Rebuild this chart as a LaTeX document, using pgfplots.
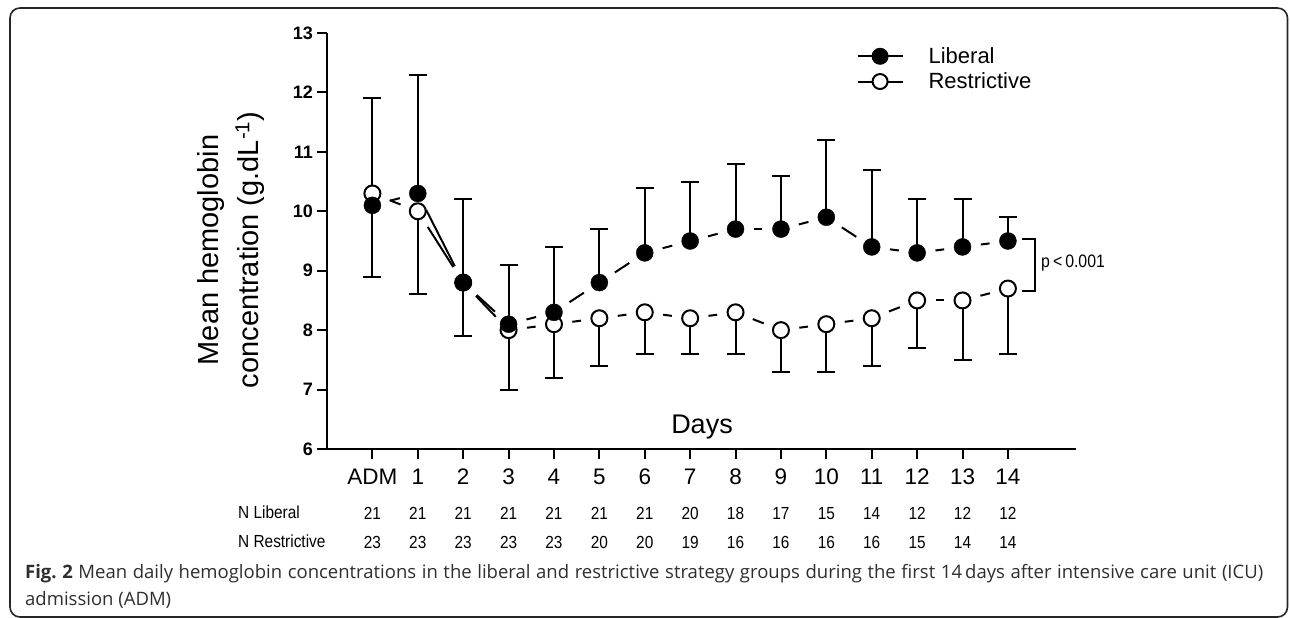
\documentclass[border=0pt]{standalone}
\usepackage{fontspec}
\setmainfont{Liberation Sans}
\newfontfamily\narrowfont{Liberation Sans}[FakeStretch=0.88]
\newfontfamily\capfont{Open Sans}
\usepackage{pgfplots}
\usepackage{pgfplotstable}
\pgfplotsset{compat=1.18}

\pgfplotstableread{
x  lib  libhi res  reslo nl nr
0  10.1 1.8   10.3 1.4   21 23
1  10.3 2.0   10.0 1.4   21 23
2  8.8  1.4   8.8  0.9   21 23
3  8.1  1.0   8.0  1.0   21 23
4  8.3  1.1   8.1  0.9   21 23
5  8.8  0.9   8.2  0.8   21 20
6  9.3  1.1   8.3  0.7   21 20
7  9.5  1.0   8.2  0.6   20 19
8  9.7  1.1   8.3  0.7   18 16
9  9.7  0.9   8.0  0.7   17 16
10 9.9  1.3   8.1  0.8   15 16
11 9.4  1.3   8.2  0.8   14 16
12 9.3  0.9   8.5  0.8   12 15
13 9.4  0.8   8.5  1.0   12 14
14 9.5  0.4   8.7  1.1   12 14
}\datatable

\begin{document}
\begin{tikzpicture}[x=1pt,y=1pt]
\path[use as bounding box] (0,0) rectangle (1290,618);
\draw[line width=1.6pt, rounded corners=10pt, black!85] (10,1) rectangle (1287.5,610);

\begin{axis}[
  at={(327pt,169pt)}, anchor=south west,
  scale only axis, width=749pt, height=416pt,
  xmin=-1, xmax=15.5, ymin=6, ymax=13,
  axis lines*=left, clip=false,
  axis line style={line width=2pt, black},
  tick style={line width=2pt, black},
  tick align=outside, major tick length=10pt,
  xtick={0,1,2,3,4,5,6,7,8,9,10,11,12,13,14},
  xticklabels={ADM,1,2,3,4,5,6,7,8,9,10,11,12,13,14},
  ytick={6,7,8,9,10,11,12,13},
  /pgf/number format/assume math mode=true,
  yticklabel style={font=\fontsize{18}{18}\selectfont\bfseries, inner sep=0pt, xshift=-4pt},
  xticklabel style={font=\fontsize{22.5}{22.5}\selectfont, inner sep=0pt, yshift=-10pt},
  legend style={draw=none, fill=none, at={(axis cs:10.662,12.758)}, anchor=north west,
    inner sep=0pt, row sep=7.8pt, nodes={inner sep=0pt},
    font=\fontsize{22}{22}\selectfont,
    /tikz/every odd column/.append style={column sep=25pt}},
  legend cell align=left,
  legend image code/.code={\draw[#1, mark repeat=2, mark phase=2] plot coordinates {(0pt,0pt) (22.5pt,0pt) (45pt,0pt)};},
]
\addlegendimage{solid, line width=2pt, black, mark=*, mark size=7.5pt, mark options={fill=black, draw=black}}
\addlegendentry{Liberal}
\addlegendimage{solid, line width=2pt, black, mark=*, mark size=7.5pt, mark options={fill=white, draw=black, line width=2pt}}
\addlegendentry{Restrictive}

% error bars
\addplot[forget plot, only marks, mark=none,
  error bars/.cd, y dir=minus, y explicit, error mark=|,
  error bar style={draw=black, solid, line width=2pt},
  error mark options={draw=black, line width=2pt, mark size=9pt}]
  table[x=x, y=res, y error=reslo] {\datatable};
\addplot[forget plot, only marks, mark=none,
  error bars/.cd, y dir=plus, y explicit, error mark=|,
  error bar style={draw=black, solid, line width=2pt},
  error mark options={draw=black, line width=2pt, mark size=9pt}]
  table[x=x, y=lib, y error=libhi] {\datatable};

% dashed connecting segments
\pgfplotsinvokeforeach{0:1,1:2,2:3,3:4,4:5,5:6,6:7,7:8,8:9,9:10,10:11,11:12,12:13,13:14}{
  \addplot[forget plot, mark=none, black, line width=2pt, shorten <=18.5pt, shorten >=18.5pt,
    restrict x to domain=#1] table[x=x, y=res] {\datatable};
  \addplot[forget plot, mark=none, black, line width=2pt, shorten <=18.5pt, shorten >=18.5pt,
    restrict x to domain=#1] table[x=x, y=lib] {\datatable};
}

% markers
\addplot[forget plot, only marks, mark=*, mark size=8pt, mark options={fill=white, draw=black, line width=2pt}]
  table[x=x, y=res] {\datatable};
\addplot[forget plot, only marks, mark=*, mark size=8.5pt, mark options={fill=black, draw=black}]
  table[x=x, y=lib] {\datatable};

% N table
\addplot[forget plot, only marks, mark=none, nodes near coords, point meta=explicit symbolic,
  every node near coord/.style={anchor=base, inner sep=0pt, font=\narrowfont\fontsize{17.5}{17.5}\selectfont}]
  table[x=x, y expr=4.822, meta=nl] {\datatable};
\addplot[forget plot, only marks, mark=none, nodes near coords, point meta=explicit symbolic,
  every node near coord/.style={anchor=base, inner sep=0pt, font=\narrowfont\fontsize{17.5}{17.5}\selectfont}]
  table[x=x, y expr=4.334, meta=nr] {\datatable};
\end{axis}

% axis titles
\node[rotate=90, align=center, inner sep=0pt, font=\fontsize{29}{40}\selectfont] at (231,368)
  {Mean hemoglobin\\concentration (g.dL\textsuperscript{-1})};
\node[anchor=base, inner sep=0pt, font=\fontsize{27}{27}\selectfont] at (702,184) {Days};

% N labels
\node[anchor=base west, inner sep=0pt, font=\narrowfont\fontsize{17.5}{17.5}\selectfont] at (238,99) {N Liberal};
\node[anchor=base west, inner sep=0pt, font=\narrowfont\fontsize{17.5}{17.5}\selectfont] at (238,70) {N Restrictive};

% significance bracket
\draw[line width=2pt, black] (1022,379) -- (1035,379) -- (1035,327) -- (1022,327);
\node[anchor=west, inner sep=0pt, font=\narrowfont\fontsize{18}{18}\selectfont] at (1041,355) {p\,<\,0.001};

% caption
\node[anchor=base west, inner sep=0pt, font=\capfont\fontsize{18.5}{27}\selectfont\frenchspacing, text=black!82] at (25,39)
  {\makebox[1238pt][s]{\textbf{Fig. 2} Mean daily hemoglobin concentrations in the liberal and restrictive strategy groups during the first 14\,days after intensive care unit (ICU)}};
\node[anchor=base west, inner sep=0pt, font=\capfont\fontsize{18.5}{27}\selectfont, text=black!82] at (25,12)
  {admission (ADM)};
\end{tikzpicture}
\end{document}
